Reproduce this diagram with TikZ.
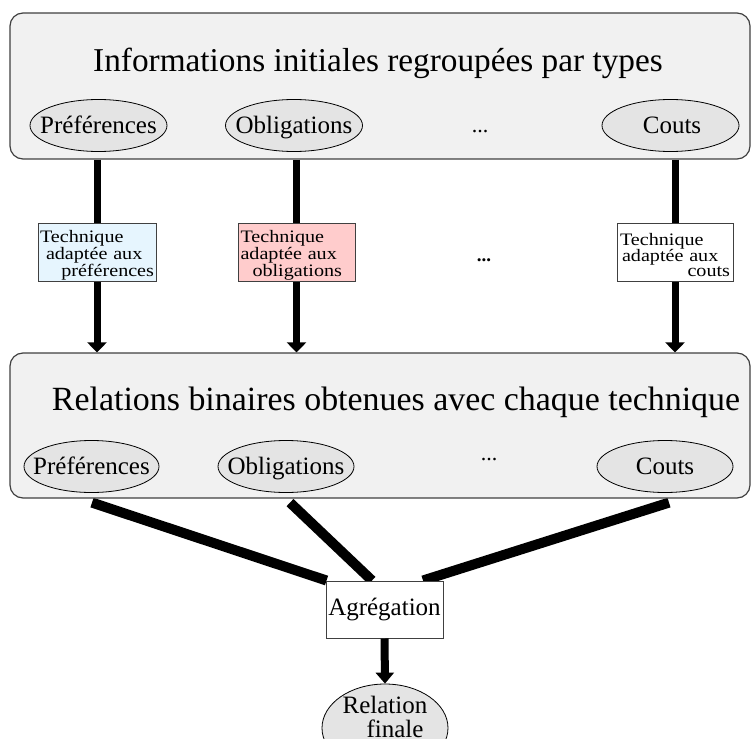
\documentclass[tikz,border=0pt]{standalone}
\usepackage{fontspec}
\setmainfont{Liberation Serif}
\newfontfamily\techfont[FakeStretch=1.15]{Liberation Serif}
\usetikzlibrary{shapes.geometric,arrows.meta,calc}
\pgfdeclarelayer{background}
\pgfsetlayers{background,main}
\definecolor{boxfill}{HTML}{F1F1F1}
\definecolor{ellfill}{HTML}{E4E4E4}
\definecolor{edgegray}{HTML}{404040}
\definecolor{blueish}{HTML}{E6F5FE}
\definecolor{pinkish}{HTML}{FFCCCC}
\begin{document}
\begin{tikzpicture}[x=1pt,y=-1pt,
  bigbox/.style={draw=edgegray, line width=1.2pt, fill=boxfill, rounded corners=13pt, minimum width=740pt, inner sep=0pt},
  titletext/.style={inner sep=0pt, anchor=base},
  ell/.style={ellipse, draw=black, line width=0.8pt, fill=ellfill, minimum height=52pt, inner sep=0pt},
  elltext/.style={font=\fontsize{25}{24}\selectfont, inner sep=0pt, anchor=base},
  dotstext/.style={font=\fontsize{22}{22}\selectfont, inner sep=0pt, anchor=base},
  techbox/.style={draw=edgegray, line width=1pt, minimum height=58pt, inner sep=0pt},
  techtext/.style={font=\techfont\fontsize{17.5}{15}\selectfont, align=left, inner sep=0pt},
  stem/.style={line width=7pt, black},
  arr/.style={line width=7pt, black, -{Triangle[width=19pt,length=10pt]}},
  fat/.style={line width=10pt, black},
]
\useasboundingbox (0,0) rectangle (751,738);

% top box
\node[bigbox, minimum height=146pt] (top) at (380,86) {};
\node[titletext, font=\fontsize{33.3}{36}\selectfont] (toptitle) at (378,72) {Informations initiales regroupées par types};
\node[ell, minimum width=137pt] (a1) at (98.5,125.5) {};
\node[elltext] (a1t) at (98.5,134) {Préférences};
\node[ell, minimum width=137pt] (a2) at (294,125.5) {};
\node[elltext] (a2t) at (294,134) {Obligations};
\node[dotstext] (adots) at (480,133) {...};
\node[ell, minimum width=137pt] (a3) at (670.5,125.5) {};
\node[elltext] (a3t) at (672,134) {Couts};

% bottom box
\node[bigbox, minimum height=145pt] (bot) at (380,425.5) {};
\node[titletext, font=\fontsize{33.9}{36}\selectfont] (bottitle) at (396,410) {Relations binaires obtenues avec chaque technique};
\node[ell, minimum width=135pt] (b1) at (91.5,466.5) {};
\node[elltext] (b1t) at (91.5,474) {Préférences};
\node[ell, minimum width=136pt] (b2) at (286,466.5) {};
\node[elltext] (b2t) at (286,474) {Obligations};
\node[dotstext] (bdots) at (489,460) {...};
\node[ell, minimum width=136pt] (b3) at (665,466.5) {};
\node[elltext] (b3t) at (665,474) {Couts};

% technique boxes
\node[techbox, fill=blueish, minimum width=118pt] (t1) at (97,252) {};
\node[techtext, text width=114pt] (t1t) at (97,255) {Technique\\\hspace*{6pt}adaptée aux\\\hspace*{\fill}préférences};
\node[techbox, fill=pinkish, minimum width=117pt] (t2) at (296.5,252) {};
\node[techtext, text width=112pt] (t2t) at (296.5,255) {Technique\\adaptée aux\\\hspace*{12pt}obligations};
\node[techbox, fill=white, minimum width=116pt] (t3) at (675,252) {};
\node[techtext, text width=110pt] (t3t) at (675,255) {Technique\\\hspace*{2pt}adaptée aux\\\hspace*{\fill}couts};
\node[inner sep=0pt, anchor=base, font=\fontsize{19}{19}\selectfont\bfseries] (mdots) at (484,261) {...};

% aggregation
\node[techbox, fill=white, minimum width=117pt, minimum height=57pt] (agg) at (384.5,609.5) {};
\node[elltext] (aggt) at (384.5,615) {Agrégation};
\node[ell, minimum width=126pt, minimum height=88pt] (fin) at (385,728) {};
\node[elltext, anchor=center, align=center] (fint) at (385,716.5) {Relation\\\hspace*{20pt}finale};

\begin{pgfonlayer}{background}
  \foreach \t in {t1,t2,t3}{
    \draw[stem] (\t.north |- top.south) -- (\t.north);
    \draw[arr] (\t.south) -- (\t.south |- bot.north);
  }
  \draw[fat] ($(b1.south |- bot.south)+(0.5,4)$) -- ($(agg.north west)+(1,0)$);
  \draw[fat] ($(b2.south |- bot.south)+(4,4)$) -- ($(agg.north)+(-12.5,0)$);
  \draw[fat] ($(b3.south |- bot.south)+(4,4)$) -- ($(agg.north)+(38.5,0)$);
\end{pgfonlayer}
\draw[arr, line width=8pt, -{Triangle[width=18pt,length=11pt]}] (agg.south) -- (fin.north);
\end{tikzpicture}
\end{document}
